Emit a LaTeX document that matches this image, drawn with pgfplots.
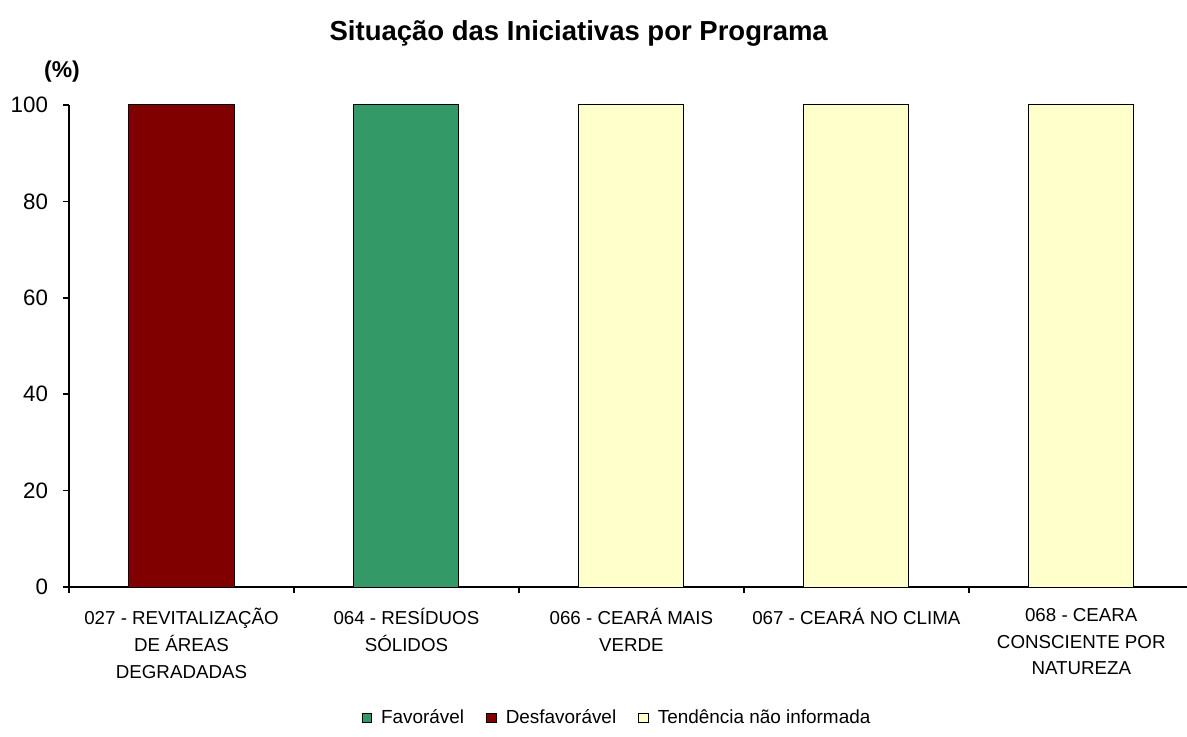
\documentclass[border=0pt]{standalone}
\usepackage{fontspec}
\setmainfont{Liberation Sans}
\usepackage{pgfplots}
\pgfplotsset{compat=1.18}
\definecolor{fav}{HTML}{339966}
\definecolor{desf}{HTML}{800000}
\definecolor{tend}{HTML}{FFFFCC}
\begin{document}
\begin{tikzpicture}
\begin{axis}[
  scale only axis,
  width=559bp, height=241bp,
  ybar stacked,
  bar width=0.467,
  xmin=-0.5, xmax=4.47,
  ymin=0, ymax=100,
  axis x line=bottom, axis y line=left,
  axis line style={-, line width=0.8bp},
  xtick={0,1,2,3,4},
  xticklabels={
    {027 - REVITALIZAÇÃO\\DE ÁREAS\\DEGRADADAS},
    {064 - RESÍDUOS\\SÓLIDOS},
    {066 - CEARÁ MAIS\\VERDE},
    {067 - CEARÁ NO CLIMA},
    {068 - CEARA\\CONSCIENTE POR\\NATUREZA}},
  x tick label style={align=center, font=\fontsize{9.4}{13.5}\selectfont, yshift=-4bp, text depth=0pt},
  major x tick style={draw=none},
  minor xtick={-0.5,0.5,1.5,2.5,3.5},
  minor x tick style={black, line width=0.8bp},
  minor tick length=3bp,
  ytick={0,20,40,60,80,100},
  major tick length=3bp,
  y tick label style={font=\fontsize{11.2}{13}\selectfont, xshift=-4bp},
  y tick style={black, line width=0.8bp},
  tick align=outside,
  /pgf/number format/assume math mode=true,
  title={\textbf{Situação das Iniciativas por Programa}},
  title style={font=\fontsize{13.8}{16}\selectfont, at={(0.456,1)}, anchor=center, yshift=30bp},
  legend columns=3,
  legend style={draw=none, at={(0.491,0)}, anchor=center, yshift=-65.5bp,
    font=\fontsize{9.5}{11}\selectfont,
    /tikz/every odd column/.append style={column sep=2.5bp},
    /tikz/every even column/.append style={column sep=9bp}},
  legend image code/.code={\draw[#1, draw=black, line width=0.5bp] (0bp,-2.4bp) rectangle (4.8bp,2.4bp);},
  clip=false,
]
\addplot[fill=fav, draw=black, line width=0.5bp] coordinates {(0,0) (1,100) (2,0) (3,0) (4,0)};
\addplot[fill=desf, draw=black, line width=0.5bp] coordinates {(0,100) (1,0) (2,0) (3,0) (4,0)};
\addplot[fill=tend, draw=black, line width=0.5bp] coordinates {(0,0) (1,0) (2,100) (3,100) (4,100)};
\legend{Favorável, Desfavorável, Tendência não informada}
\node[font=\fontsize{11.5}{13}\selectfont\bfseries] at (rel axis cs:0,1) [xshift=-3.5bp, yshift=16.5bp] {(\%)};
\end{axis}
\pgfresetboundingbox
\useasboundingbox (-34.5bp,-75bp) rectangle (559bp,293.5bp);
\end{tikzpicture}
\end{document}
